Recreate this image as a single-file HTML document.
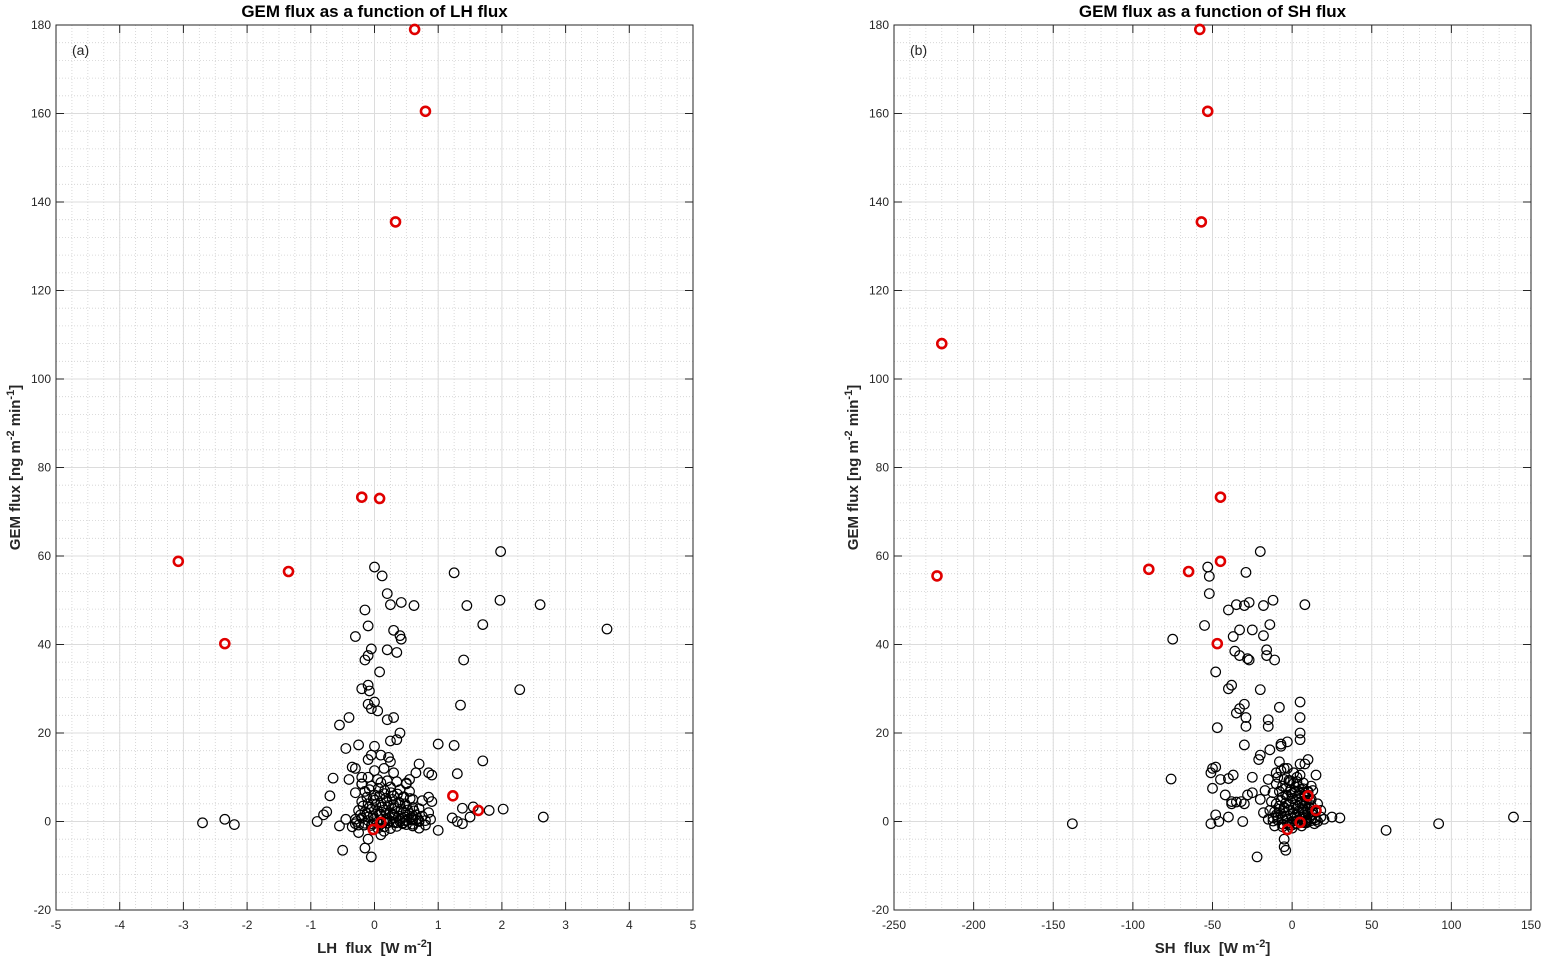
<!DOCTYPE html>
<html><head><meta charset="utf-8"><style>
html,body{margin:0;padding:0;background:#fff;}
svg{display:block;font-family:"Liberation Sans",Arial,sans-serif;}
</style></head><body>
<svg id="fig" width="1544" height="960" xmlns="http://www.w3.org/2000/svg"></svg>
<script>
// ---- data: panel (a) LH flux ----
const lhRedX=[0.63,0.8,0.33,-0.2,0.08,-3.08,-1.35,-2.35,1.23,1.63,0.1,-0.02];
const lhRedY=[179,160.5,135.5,73.3,73,58.8,56.5,40.2,5.8,2.5,-0.2,-1.8];
const lhX=[-2.7,-2.35,-2.2,-0.9,-0.8,-0.75,-0.7,-0.65,-0.55,-0.5,-0.55,-0.4,-0.45,-0.3,-0.25,-0.15,-0.1,-0.15,-0.05,-0.1,0,0.12,0.2,0.25,0.42,0.62,0.3,0.4,0.42,0.35,0.2,-0.1,-0.08,-0.2,0.08,-0.1,-0.05,0.05,0,0.3,0.2,0.4,0.35,0.25,0.22,0.25,0,-0.05,0.1,-0.3,-0.35,-0.4,-0.2,-0.2,-0.1,0.7,0.65,0.85,0.9,0.55,0.5,1.0,1.25,1.3,1.7,1.25,1.4,1.45,1.35,1.7,1.98,1.97,2.28,2.6,3.65,2.65,2.02,1.8,1.55,1.5,1.38,1.3,1.22,1.38,1.0,0.8,0.88,0.85,0.9,0.85,0.6,0.7,0.15,0.1,-0.1,-0.15,-0.05,-0.25,-0.3,-0.45,
-0.3,-0.2,-0.1,0,0.1,0.2,0.3,0.4,0.5,0.6,-0.25,-0.15,-0.05,0.05,0.15,0.25,0.35,0.45,0.55,0.65,0.75,-0.2,-0.1,0,0.1,0.2,0.3,0.4,0.5,0.6,0.7,-0.3,-0.15,0,0.15,0.3,0.45,0.6,0.75,-0.2,-0.05,0.1,0.25,0.4,0.55,-0.1,0.05,0.2,0.35,0.5,0,0.15,0.3,-0.35,-0.25,0.45,0.6,0.7,0.8,0.05,0.15,0.25,-0.05,0.35,0.5,-0.15,0.65,0.3,0.1,
-0.22,-0.12,-0.02,0.08,0.18,0.28,0.38,0.48,0.58,0.68,-0.18,-0.08,0.02,0.12,0.22,0.32,0.42,0.52,0.62,-0.12,-0.02,0.08,0.18,0.28,0.38,0.48,-0.08,0.06,0.16,0.26,0.36,0.46,0.56,-0.28,-0.1,0.04,0.14,0.24,0.34,0.44,-0.16,-0.04,0.1,0.2,0.3,0.4,0.5,0.6,0.7,0.78];
const lhY=[-0.3,0.5,-0.7,0,1.5,2.2,5.8,9.8,-1,-6.5,21.8,23.5,16.5,41.8,17.3,47.8,44.2,36.5,39,37.5,57.5,55.5,51.5,49,49.5,48.8,43.2,42,41.2,38.2,38.8,30.8,29.5,30,33.8,26.5,25.5,25,27,23.5,23,20,18.5,18.2,14.5,13.5,17,15,15,12,12.3,9.5,10,8.5,14,13,11,11,10.5,9.5,8.5,17.5,17.2,10.8,13.7,56.2,36.5,48.8,26.3,44.5,61,50,29.8,49,43.5,1,2.8,2.5,3.3,1,-0.5,0,0.8,3,-2,-0.8,0.5,2,4.5,5.5,-1,-1.5,-2.2,-3,-4,-6,-8,-2.5,-0.5,0.5,
0.5,0.8,1,0.6,0.4,0.7,0.9,0.5,0.3,0.6,2.5,2.2,2.8,2.4,2.6,2,2.3,2.1,1.8,1.5,1.2,4.5,4,4.8,4.2,4.6,3.8,4.1,3.5,3.2,2.9,6.5,6.8,6,6.3,5.8,5.5,5,4.7,8.5,8,8.8,7.8,7.2,6.8,10,9.5,9.2,9,8.7,11.5,12,11,-1.2,-0.8,-0.3,-0.6,0,0.2,-1.5,-1.2,-1.6,-0.9,-1.1,-0.7,-0.4,0.3,1.4,1.6,
1.5,1.8,1.3,1.6,1.9,1.4,1.2,1.0,0.9,0.7,3.5,3.2,3.8,3.3,3.6,3.0,2.8,2.6,2.4,5.5,5.2,5.8,5.3,5.0,4.4,4.0,7.2,7.5,7.0,6.5,6.2,5.6,5.2,0,0.2,-0.2,0,0.1,-0.3,-0.5,-0.8,-0.5,-0.6,-0.4,-0.2,0,0.1,0.3,0.2];
// ---- data: panel (b) SH flux ----
const shRedX=[-58,-53,-57,-220,-45,-90,-65,-223,-45,-47,10,15,5,-3];
const shRedY=[179,160.5,135.5,108,73.3,57,56.5,55.5,58.8,40.2,5.8,2.5,-0.2,-1.8];
const shX=[-138,-75,-76,59,92,139,-20,-53,-52,-52,-55,-29,-35,-30,-27,-12,8,-18,-33,-25,-14,-37,-40,-18,-36,-33,-16,-16,-28,-27,-11,-38,-40,-20,-48,-47,5,5,-8,-33,-35,-30,-29,-29,-15,-15,-20,-14,-7,-7,-3,5,5,-30,-50,-48,-51,-40,-37,-45,-50,-42,-38,-35,-32,-30,-28,-25,-15,-8,-5,-10,-25,-21,-48,-46,-40,-38,-31,-51,-22,-5,-5,-4,20,25,30,18,16,15,13,12,10,8,5,3,-5,
-15,-12,-9,-6,-3,0,3,6,9,12,-14,-11,-8,-5,-2,1,4,7,10,13,-13,-10,-7,-4,-1,2,5,8,11,-12,-8,-4,0,4,8,12,-10,-6,-2,2,6,10,-9,-5,-1,3,7,-7,-3,1,5,-18,-20,-17,14,16,18,-6,0,6,-2,2,8,-11,11,
-10,-7,-4,-1,2,5,8,11,14,-8,-5,-2,1,4,7,10,13,-6,-3,0,3,6,9,12,-4,-1,2,5,8,11,-2,1,4,7,10,0,3,6,9,-12,-9,-6,-3,0,3,6,9,12,15];
const shY=[-0.5,41.2,9.6,-2,-0.5,1,61,57.5,55.4,51.5,44.3,56.3,49,48.8,49.5,50,49,48.8,43.3,43.3,44.5,41.8,47.8,42,38.5,37.5,38.8,37.5,36.8,36.5,36.5,30.8,30,29.8,33.8,21.2,27,23.5,25.8,25.5,24.5,26.5,23.5,21.5,23,21.5,15,16.2,17.5,17,18,20,18.5,17.3,12,12.3,11,9.7,10.5,9.5,7.5,6,4.5,4.4,4.5,4,6,10,9.5,13.5,12,11,6.5,14,1.5,0,1,4,0,-0.5,-8,-4,-5.7,-6.5,0.5,1,0.8,2.5,4,10.5,7,8,14,13,13,10,3,
0.5,0.8,1,0.6,0.4,0.7,0.9,0.5,0.3,0.6,2.5,2.2,2.8,2.4,2.6,2,2.3,2.1,1.8,1.5,4.5,4,4.8,4.2,4.6,3.8,4.1,3.5,3.2,6.5,6.8,6,6.3,5.8,5.5,5,8.5,8,8.8,7.8,7.2,6.8,10,9.5,9.2,9,8.7,11.5,12,11,10.5,2,5,7,-0.5,0,1,-1.2,-1.5,-1,-0.8,-0.5,-0.3,-1,3,
1.5,1.8,1.2,1.6,1.4,1.1,1.3,0.9,0.8,3.5,3.2,3.8,3.0,3.4,2.9,2.7,2.2,5.5,5.8,5.2,5.0,4.6,4.2,3.6,7.5,7.2,6.8,6.4,5.9,5.0,9.3,8.6,7.9,7.4,6.6,0,0.2,-0.2,-0.3,0.1,0.3,-0.6,-0.4,-0.8,-0.5,-0.2,0,0.2,0.4];
const yTicks=[-20,0,20,40,60,80,100,120,140,160,180];
const lhTicks=[-5,-4,-3,-2,-1,0,1,2,3,4,5];
const shTicks=[-250,-200,-150,-100,-50,0,50,100,150];

const NS="http://www.w3.org/2000/svg";
const svg=document.getElementById('fig');
function mk(tag,attrs,parent){const e=document.createElementNS(NS,tag);for(const k in attrs)e.setAttribute(k,attrs[k]);(parent||svg).appendChild(e);return e;}
const yTop=25,yBot=910;
function panel(o){
  const g=mk('g',{});
  
  
  const sx=v=>o.x0+(v-o.xmin)/(o.xmax-o.xmin)*(o.x1-o.x0);
  const sy=v=>yBot-(v-(-20))/200*(yBot-yTop);
  mk('rect',{x:o.x0,y:yTop,width:o.x1-o.x0,height:yBot-yTop,fill:'#fff'},g);
  for(let v=o.xmin;v<=o.xmax+1e-9;v+=o.xminor){const X=sx(v);mk('line',{x1:X,x2:X,y1:yTop,y2:yBot,stroke:'#d0d0d0','stroke-width':0.8,'stroke-dasharray':'1,2'},g);}
  for(let v=-20;v<=180;v+=4){const Y=sy(v);mk('line',{x1:o.x0,x2:o.x1,y1:Y,y2:Y,stroke:'#d0d0d0','stroke-width':0.8,'stroke-dasharray':'1,2'},g);}
  o.xt.forEach(v=>{const X=sx(v);mk('line',{x1:X,x2:X,y1:yTop,y2:yBot,stroke:'#dcdcdc','stroke-width':1},g);
    mk('line',{x1:X,x2:X,y1:yBot,y2:yBot-8,stroke:'#262626','stroke-width':1},g);
    mk('line',{x1:X,x2:X,y1:yTop,y2:yTop+8,stroke:'#262626','stroke-width':1},g);
    const t=mk('text',{x:X,y:yBot+19,'text-anchor':'middle','font-size':12,fill:'#262626'},g);t.textContent=v;
    
    });
  yTicks.forEach(v=>{const Y=sy(v);mk('line',{x1:o.x0,x2:o.x1,y1:Y,y2:Y,stroke:'#dcdcdc','stroke-width':1},g);
    mk('line',{x1:o.x0,x2:o.x0+8,y1:Y,y2:Y,stroke:'#262626','stroke-width':1},g);
    mk('line',{x1:o.x1,x2:o.x1-8,y1:Y,y2:Y,stroke:'#262626','stroke-width':1},g);
    const t=mk('text',{x:o.x0-5,y:Y+4,'text-anchor':'end','font-size':12,fill:'#262626'},g);t.textContent=v;
    
    });
  mk('rect',{x:o.x0,y:yTop,width:o.x1-o.x0,height:yBot-yTop,fill:'none',stroke:'#262626','stroke-width':1},g);
  const nb=Math.min(o.bx.length,o.by.length);
  for(let i=0;i<nb;i++){const c=mk('circle',{cx:sx(o.bx[i]),cy:sy(o.by[i]),r:4.8,fill:'none',stroke:'#000','stroke-width':1.2},g);
    
    }
  const nr=Math.min(o.rx.length,o.ry.length);
  for(let i=0;i<nr;i++){const c=mk('circle',{cx:sx(o.rx[i]),cy:sy(o.ry[i]),r:4.5,fill:'none',stroke:'#e00000','stroke-width':2.6},g);
    
    }
  const tt=mk('text',{x:(o.x0+o.x1)/2,y:17,'text-anchor':'middle','font-size':17,'font-weight':'bold',fill:'#000'},g);tt.textContent=o.title;
  
  
  const pl=mk('text',{x:o.x0+16,y:55,'font-size':14,fill:'#262626'},g);pl.textContent=o.label;
  
  
  const xl=mk('text',{x:(o.x0+o.x1)/2,y:953,'text-anchor':'middle','font-size':15,'font-weight':'bold',fill:'#262626','xml:space':'preserve'},g);
  xl.innerHTML=o.xlab+'\u00a0 flux \u00a0[W m<tspan dy="-6" font-size="11">-2</tspan><tspan dy="6">]</tspan>';
  
  
  const cy=(yTop+yBot)/2;
  const yl=mk('text',{x:o.x0-36,y:cy,'text-anchor':'middle','font-size':15,'font-weight':'bold',fill:'#262626',transform:`rotate(-90 ${o.x0-36} ${cy})`},g);
  yl.innerHTML='GEM flux [ng m<tspan dy="-6" font-size="11">-2</tspan><tspan dy="6"> min</tspan><tspan dy="-6" font-size="11">-1</tspan><tspan dy="6">]</tspan>';
  
  
}
panel({name:'panel-a-lh',x0:56,x1:693,xmin:-5,xmax:5,xminor:0.25,xt:lhTicks,bx:lhX,by:lhY,rx:lhRedX,ry:lhRedY,title:'GEM flux as a function of LH flux',label:'(a)',xlab:'LH'});
panel({name:'panel-b-sh',x0:894,x1:1531,xmin:-250,xmax:150,xminor:10,xt:shTicks,bx:shX,by:shY,rx:shRedX,ry:shRedY,title:'GEM flux as a function of SH flux',label:'(b)',xlab:'SH'});
</script>
</body></html>
